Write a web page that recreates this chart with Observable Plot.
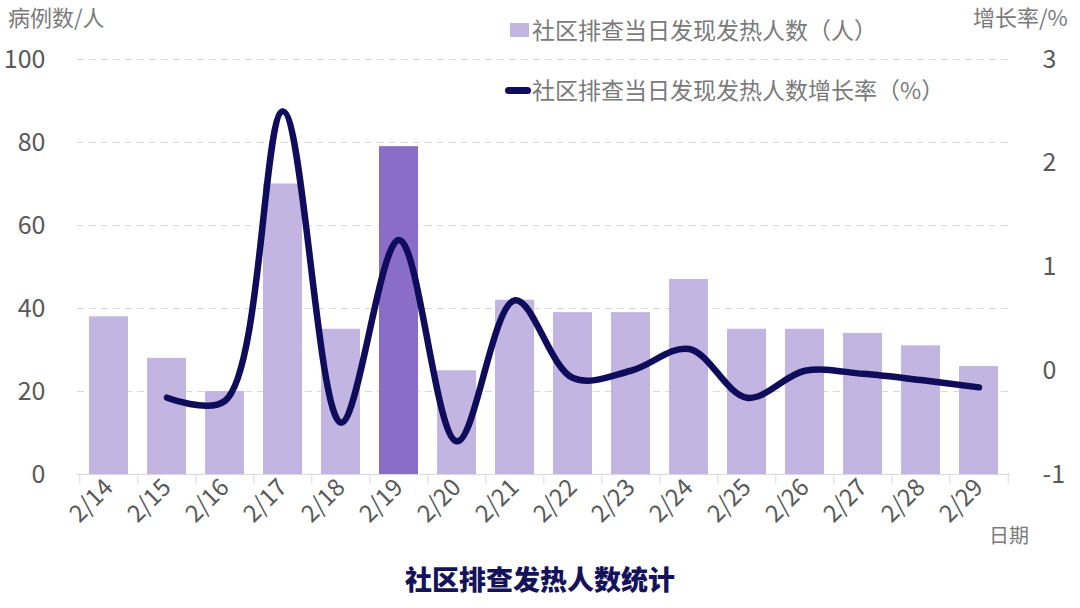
<!DOCTYPE html>
<html>
<head>
<meta charset="utf-8">
<script src="https://cdn.jsdelivr.net/npm/d3@7"></script>
<script src="https://cdn.jsdelivr.net/npm/@observablehq/plot@0.6"></script>
<style>
  body { margin: 0; background: #fff; }
  #wrap { position: relative; width: 1080px; height: 608px; font-family: "Noto Sans CJK SC", "Noto Sans", sans-serif; }
  #wrap svg { position: absolute; left: 0; top: 0; }
  .lbl { position: absolute; white-space: nowrap; line-height: 1; }
</style>
</head>
<body>
<div id="wrap"></div>
<script>
// ---- data ----
const dates = ["2/14","2/15","2/16","2/17","2/18","2/19","2/20","2/21","2/22","2/23","2/24","2/25","2/26","2/27","2/28","2/29"];
const counts = [38, 28, 20, 70, 35, 79, 25, 42, 39, 39, 47, 35, 35, 34, 31, 26];
const rates = [null, -0.26, -0.29, 2.5, -0.5, 1.26, -0.68, 0.68, -0.07, 0, 0.21, -0.26, 0, -0.03, -0.09, -0.16];
const highlightDate = "2/19";
const leftTicks = [0, 20, 40, 60, 80, 100];
const rightTicks = [-1, 0, 1, 2, 3];
const rightDomain = [-1, 3];
const leftDomain = [0, 100];

const title = "社区排查发热人数统计";
const legendBar = "社区排查当日发现发热人数（人）";
const legendLine = "社区排查当日发现发热人数增长率（%）";

const rows = dates.map((d, i) => ({date: d, count: counts[i], rate: rates[i]}));

// map right-axis value onto the left (primary) scale domain
const toLeft = v => leftDomain[0] + (v - rightDomain[0]) / (rightDomain[1] - rightDomain[0]) * (leftDomain[1] - leftDomain[0]);

const W = 1080, H = 608, mL = 77, mR = 70, mT = 59, mB = 134;
const step = (W - mL - mR) / dates.length;

const chart = Plot.plot({
  width: W, height: H,
  marginLeft: mL, marginRight: mR, marginTop: mT, marginBottom: mB,
  style: {fontFamily: '"Noto Sans CJK SC", "Noto Sans", sans-serif', background: "transparent"},
  x: {domain: dates, paddingInner: 0.33, paddingOuter: 0.165, label: null},
  y: {domain: leftDomain, label: null},
  marks: [
    Plot.gridY(leftTicks.filter(t => t > 0), {stroke: "#d9d9d9", strokeOpacity: 1, strokeDasharray: "7,5"}),
    Plot.barY(rows, {x: "date", y: "count", fill: d => d.date === highlightDate ? "#8a6dc6" : "#c2b5e1"}),
    Plot.ruleY([0], {stroke: "#d9d9d9", strokeWidth: 1}),
    Plot.ruleX(rows, {x: "date", y1: 0, y2: 0, dx: -step / 2, insetBottom: -10, stroke: "#d9d9d9"}),
    Plot.ruleX([dates[dates.length - 1]], {x: d => d, y1: 0, y2: 0, dx: step / 2, insetBottom: -10, stroke: "#d9d9d9"}),
    Plot.line(rows, {filter: d => d.rate != null, x: "date", y: d => toLeft(d.rate), curve: "catmull-rom", stroke: "#100c5c", strokeWidth: 6.5, strokeLinecap: "round", strokeLinejoin: "round"}),
    Plot.axisY(leftTicks, {anchor: "left", tickSize: 0, tickPadding: 32, fontSize: 25, fill: "#595959", label: null}),
    Plot.axisY(rightTicks.map(toLeft), {anchor: "right", tickSize: 0, tickPadding: 32, fontSize: 25, fill: "#595959", label: null,
      tickFormat: (v, i) => String(rightTicks[i])}),
    Plot.axisX({tickSize: 0, tickPadding: 9, tickRotate: -45, fontSize: 24, fill: "#595959", label: null})
  ]
});

const wrap = document.getElementById("wrap");
wrap.appendChild(chart);

function addLabel(text, css) {
  const el = document.createElement("div");
  el.className = "lbl";
  el.textContent = text;
  Object.assign(el.style, css);
  wrap.appendChild(el);
  return el;
}

addLabel("病例数/人", {left: "8px", top: "5px", fontSize: "22px", color: "#7a7a7a"});
addLabel("增长率/%", {left: "973px", top: "5px", fontSize: "22px", color: "#7a7a7a"});
addLabel("日期", {left: "989px", top: "525px", fontSize: "20px", color: "#7a7a7a"});

// legend
const sw = document.createElement("div");
Object.assign(sw.style, {position: "absolute", left: "510px", top: "23px", width: "19px", height: "14px", background: "#c2b5e1"});
wrap.appendChild(sw);
addLabel(legendBar, {left: "532px", top: "18px", fontSize: "23px", color: "#7a7a7a"});
const ln = document.createElement("div");
Object.assign(ln.style, {position: "absolute", left: "505px", top: "87px", width: "26px", height: "7px", borderRadius: "3.5px", background: "#100c5c"});
wrap.appendChild(ln);
addLabel(legendLine, {left: "532px", top: "78px", fontSize: "23px", color: "#7a7a7a"});

addLabel(title, {left: "0px", width: "1080px", textAlign: "center", top: "565px", fontSize: "27px", fontWeight: "900", color: "#15125c"});
</script>
</body>
</html>
